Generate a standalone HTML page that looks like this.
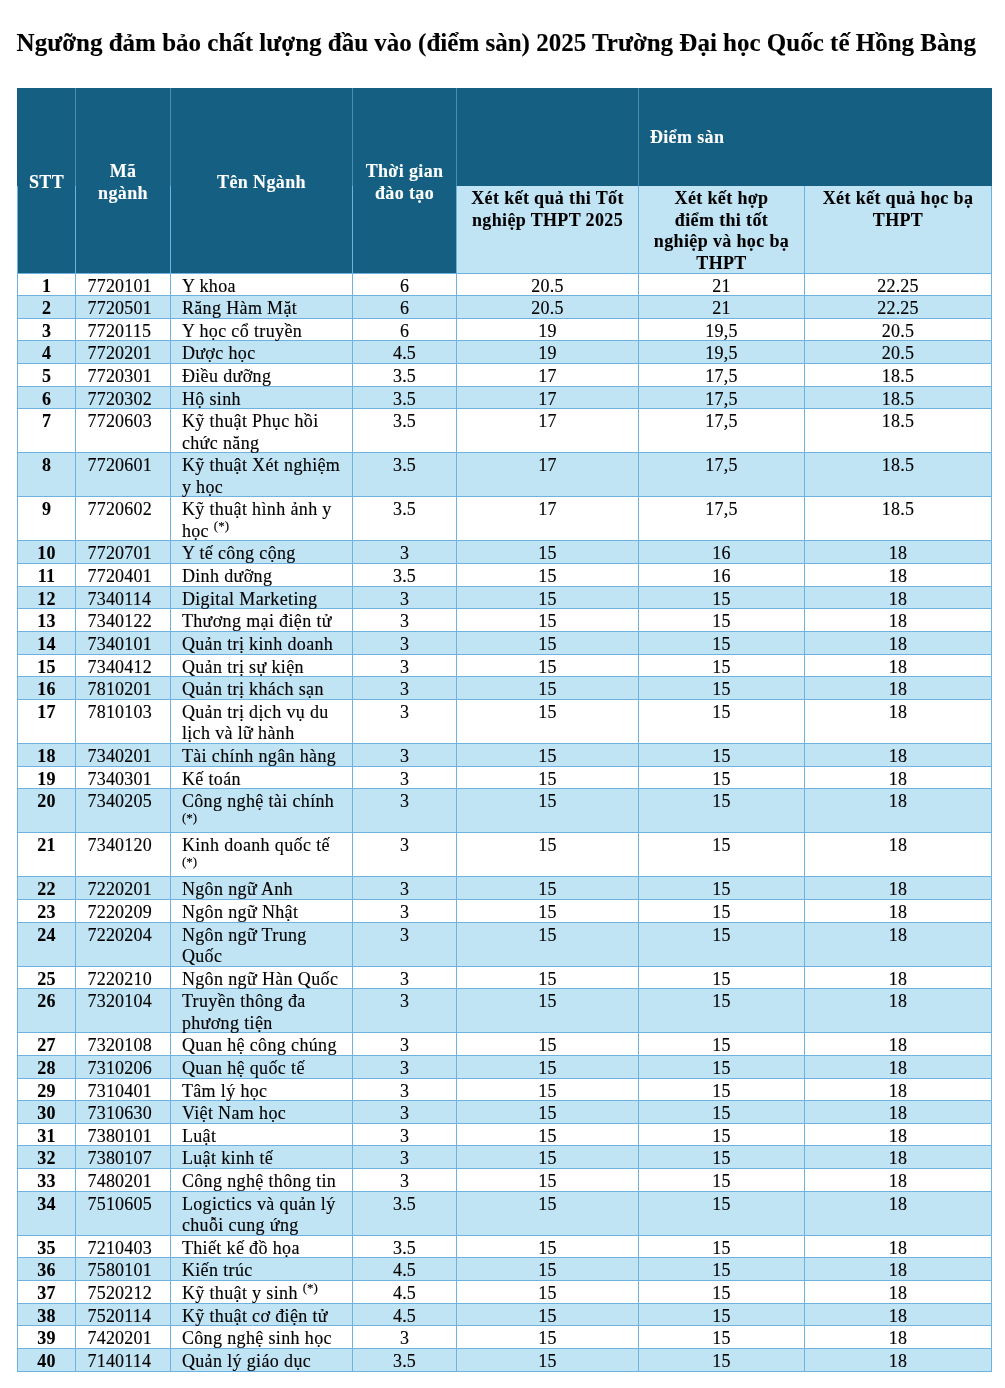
<!DOCTYPE html>
<html><head><meta charset="utf-8"><title>Ngưỡng điểm sàn 2025</title>
<style>
html,body{margin:0;padding:0;background:#fff;}
body{width:1005px;height:1388px;position:relative;overflow:hidden;font-family:"Liberation Serif",serif;color:#000;}
div{position:absolute;box-sizing:border-box;white-space:nowrap;}
.t{font-size:18.0px;line-height:21.47px;letter-spacing:0.36px;}
.n{letter-spacing:0.2px;}
.t{-webkit-text-stroke:0.14px currentColor;}
.t.b{-webkit-text-stroke:0.1px currentColor;}
.c{text-align:center;}
.b{font-weight:bold;}
.w{color:#fff;}
.v{background:#6eb3df;width:1px;}
.h{background:#6eb3df;height:1px;}
sup{font-size:13px;line-height:0;vertical-align:6.8px;letter-spacing:0;}
</style></head><body>
<div id="w" style="left:0;top:0;width:1005px;height:1388px;will-change:transform;">

<div class="b" style="-webkit-text-stroke:0.12px #000;left:16.6px;top:28.84px;font-size:25.0px;line-height:27px;">Ngưỡng đảm bảo chất lượng đầu vào (điểm sàn) 2025 Trường Đại học Quốc tế Hồng Bàng</div>
<div style="left:17.0px;top:88.0px;width:975.0px;height:185.0px;background:#156082;"></div>
<div style="left:456.5px;top:185.5px;width:535.5px;height:87.5px;background:#c1e4f5;"></div>
<div style="left:17.0px;top:295.65px;width:975.0px;height:22.65px;background:#c1e4f5;"></div>
<div style="left:17.0px;top:340.95px;width:975.0px;height:22.65px;background:#c1e4f5;"></div>
<div style="left:17.0px;top:386.25px;width:975.0px;height:22.65px;background:#c1e4f5;"></div>
<div style="left:17.0px;top:452.90px;width:975.0px;height:44.00px;background:#c1e4f5;"></div>
<div style="left:17.0px;top:540.90px;width:975.0px;height:22.65px;background:#c1e4f5;"></div>
<div style="left:17.0px;top:586.20px;width:975.0px;height:22.65px;background:#c1e4f5;"></div>
<div style="left:17.0px;top:631.50px;width:975.0px;height:22.65px;background:#c1e4f5;"></div>
<div style="left:17.0px;top:676.80px;width:975.0px;height:22.65px;background:#c1e4f5;"></div>
<div style="left:17.0px;top:743.45px;width:975.0px;height:22.65px;background:#c1e4f5;"></div>
<div style="left:17.0px;top:788.75px;width:975.0px;height:44.00px;background:#c1e4f5;"></div>
<div style="left:17.0px;top:876.75px;width:975.0px;height:22.65px;background:#c1e4f5;"></div>
<div style="left:17.0px;top:922.05px;width:975.0px;height:44.00px;background:#c1e4f5;"></div>
<div style="left:17.0px;top:988.70px;width:975.0px;height:44.00px;background:#c1e4f5;"></div>
<div style="left:17.0px;top:1055.35px;width:975.0px;height:22.65px;background:#c1e4f5;"></div>
<div style="left:17.0px;top:1100.65px;width:975.0px;height:22.65px;background:#c1e4f5;"></div>
<div style="left:17.0px;top:1145.95px;width:975.0px;height:22.65px;background:#c1e4f5;"></div>
<div style="left:17.0px;top:1191.25px;width:975.0px;height:44.00px;background:#c1e4f5;"></div>
<div style="left:17.0px;top:1257.90px;width:975.0px;height:22.65px;background:#c1e4f5;"></div>
<div style="left:17.0px;top:1303.20px;width:975.0px;height:22.65px;background:#c1e4f5;"></div>
<div style="left:17.0px;top:1348.50px;width:975.0px;height:22.65px;background:#c1e4f5;"></div>
<div class="h" style="left:17.0px;top:272.50px;width:975.0px;"></div>
<div class="h" style="left:17.0px;top:295.15px;width:975.0px;"></div>
<div class="h" style="left:17.0px;top:317.80px;width:975.0px;"></div>
<div class="h" style="left:17.0px;top:340.45px;width:975.0px;"></div>
<div class="h" style="left:17.0px;top:363.10px;width:975.0px;"></div>
<div class="h" style="left:17.0px;top:385.75px;width:975.0px;"></div>
<div class="h" style="left:17.0px;top:408.40px;width:975.0px;"></div>
<div class="h" style="left:17.0px;top:452.40px;width:975.0px;"></div>
<div class="h" style="left:17.0px;top:496.40px;width:975.0px;"></div>
<div class="h" style="left:17.0px;top:540.40px;width:975.0px;"></div>
<div class="h" style="left:17.0px;top:563.05px;width:975.0px;"></div>
<div class="h" style="left:17.0px;top:585.70px;width:975.0px;"></div>
<div class="h" style="left:17.0px;top:608.35px;width:975.0px;"></div>
<div class="h" style="left:17.0px;top:631.00px;width:975.0px;"></div>
<div class="h" style="left:17.0px;top:653.65px;width:975.0px;"></div>
<div class="h" style="left:17.0px;top:676.30px;width:975.0px;"></div>
<div class="h" style="left:17.0px;top:698.95px;width:975.0px;"></div>
<div class="h" style="left:17.0px;top:742.95px;width:975.0px;"></div>
<div class="h" style="left:17.0px;top:765.60px;width:975.0px;"></div>
<div class="h" style="left:17.0px;top:788.25px;width:975.0px;"></div>
<div class="h" style="left:17.0px;top:832.25px;width:975.0px;"></div>
<div class="h" style="left:17.0px;top:876.25px;width:975.0px;"></div>
<div class="h" style="left:17.0px;top:898.90px;width:975.0px;"></div>
<div class="h" style="left:17.0px;top:921.55px;width:975.0px;"></div>
<div class="h" style="left:17.0px;top:965.55px;width:975.0px;"></div>
<div class="h" style="left:17.0px;top:988.20px;width:975.0px;"></div>
<div class="h" style="left:17.0px;top:1032.20px;width:975.0px;"></div>
<div class="h" style="left:17.0px;top:1054.85px;width:975.0px;"></div>
<div class="h" style="left:17.0px;top:1077.50px;width:975.0px;"></div>
<div class="h" style="left:17.0px;top:1100.15px;width:975.0px;"></div>
<div class="h" style="left:17.0px;top:1122.80px;width:975.0px;"></div>
<div class="h" style="left:17.0px;top:1145.45px;width:975.0px;"></div>
<div class="h" style="left:17.0px;top:1168.10px;width:975.0px;"></div>
<div class="h" style="left:17.0px;top:1190.75px;width:975.0px;"></div>
<div class="h" style="left:17.0px;top:1234.75px;width:975.0px;"></div>
<div class="h" style="left:17.0px;top:1257.40px;width:975.0px;"></div>
<div class="h" style="left:17.0px;top:1280.05px;width:975.0px;"></div>
<div class="h" style="left:17.0px;top:1302.70px;width:975.0px;"></div>
<div class="h" style="left:17.0px;top:1325.35px;width:975.0px;"></div>
<div class="h" style="left:17.0px;top:1348.00px;width:975.0px;"></div>
<div class="h" style="left:17.0px;top:1370.65px;width:975.0px;"></div>
<div class="v" style="left:17.0px;top:185.5px;height:1186.15px;"></div>
<div class="v" style="left:75.0px;top:88.0px;height:97.5px;background:#4a8db4;"></div>
<div class="v" style="left:75.0px;top:185.5px;height:1186.15px;"></div>
<div class="v" style="left:170.0px;top:88.0px;height:97.5px;background:#4a8db4;"></div>
<div class="v" style="left:170.0px;top:185.5px;height:1186.15px;"></div>
<div class="v" style="left:352.0px;top:88.0px;height:97.5px;background:#4a8db4;"></div>
<div class="v" style="left:352.0px;top:185.5px;height:1186.15px;"></div>
<div class="v" style="left:456.0px;top:88.0px;height:97.5px;background:#4a8db4;"></div>
<div class="v" style="left:456.0px;top:185.5px;height:1186.15px;"></div>
<div class="v" style="left:638.0px;top:88.0px;height:97.5px;background:#4a8db4;"></div>
<div class="v" style="left:638.0px;top:185.5px;height:1186.15px;"></div>
<div class="v" style="left:804.0px;top:185.5px;height:1186.15px;"></div>
<div class="v" style="left:991.0px;top:185.5px;height:1186.15px;"></div>
<div class="t c b w" style="left:17.5px;top:171.96px;width:58.0px;">STT</div>
<div class="t c b w" style="left:75.5px;top:161.23px;width:95.0px;">Mã<br>ngành</div>
<div class="t c b w" style="left:170.5px;top:171.96px;width:182.0px;">Tên Ngành</div>
<div class="t c b w" style="left:352.5px;top:161.23px;width:104.0px;">Thời gian<br>đào tạo</div>
<div class="t b w" style="left:649.9px;top:127.46px;">Điểm sàn</div>
<div class="t c b" style="left:456.5px;top:188.10px;width:182.0px;">Xét kết quả thi Tốt<br>nghiệp THPT 2025</div>
<div class="t c b" style="left:638.5px;top:188.10px;width:166.0px;">Xét kết hợp<br>điểm thi tốt<br>nghiệp và học bạ<br>THPT</div>
<div class="t c b" style="left:804.5px;top:188.10px;width:187.0px;">Xét kết quả học bạ<br>THPT</div>
<div class="t c b n" style="left:17.5px;top:275.50px;width:58.0px;">1</div>
<div class="t n" style="left:87.5px;top:275.50px;">7720101</div>
<div class="t" style="left:181.9px;top:275.50px;">Y khoa</div>
<div class="t c n" style="left:352.5px;top:275.50px;width:104.0px;">6</div>
<div class="t c n" style="left:456.5px;top:275.50px;width:182.0px;">20.5</div>
<div class="t c n" style="left:638.5px;top:275.50px;width:166.0px;">21</div>
<div class="t c n" style="left:804.5px;top:275.50px;width:187.0px;">22.25</div>
<div class="t c b n" style="left:17.5px;top:298.15px;width:58.0px;">2</div>
<div class="t n" style="left:87.5px;top:298.15px;">7720501</div>
<div class="t" style="left:181.9px;top:298.15px;">Răng Hàm Mặt</div>
<div class="t c n" style="left:352.5px;top:298.15px;width:104.0px;">6</div>
<div class="t c n" style="left:456.5px;top:298.15px;width:182.0px;">20.5</div>
<div class="t c n" style="left:638.5px;top:298.15px;width:166.0px;">21</div>
<div class="t c n" style="left:804.5px;top:298.15px;width:187.0px;">22.25</div>
<div class="t c b n" style="left:17.5px;top:320.80px;width:58.0px;">3</div>
<div class="t n" style="left:87.5px;top:320.80px;">7720115</div>
<div class="t" style="left:181.9px;top:320.80px;">Y học cổ truyền</div>
<div class="t c n" style="left:352.5px;top:320.80px;width:104.0px;">6</div>
<div class="t c n" style="left:456.5px;top:320.80px;width:182.0px;">19</div>
<div class="t c n" style="left:638.5px;top:320.80px;width:166.0px;">19,5</div>
<div class="t c n" style="left:804.5px;top:320.80px;width:187.0px;">20.5</div>
<div class="t c b n" style="left:17.5px;top:343.45px;width:58.0px;">4</div>
<div class="t n" style="left:87.5px;top:343.45px;">7720201</div>
<div class="t" style="left:181.9px;top:343.45px;">Dược học</div>
<div class="t c n" style="left:352.5px;top:343.45px;width:104.0px;">4.5</div>
<div class="t c n" style="left:456.5px;top:343.45px;width:182.0px;">19</div>
<div class="t c n" style="left:638.5px;top:343.45px;width:166.0px;">19,5</div>
<div class="t c n" style="left:804.5px;top:343.45px;width:187.0px;">20.5</div>
<div class="t c b n" style="left:17.5px;top:366.10px;width:58.0px;">5</div>
<div class="t n" style="left:87.5px;top:366.10px;">7720301</div>
<div class="t" style="left:181.9px;top:366.10px;">Điều dưỡng</div>
<div class="t c n" style="left:352.5px;top:366.10px;width:104.0px;">3.5</div>
<div class="t c n" style="left:456.5px;top:366.10px;width:182.0px;">17</div>
<div class="t c n" style="left:638.5px;top:366.10px;width:166.0px;">17,5</div>
<div class="t c n" style="left:804.5px;top:366.10px;width:187.0px;">18.5</div>
<div class="t c b n" style="left:17.5px;top:388.75px;width:58.0px;">6</div>
<div class="t n" style="left:87.5px;top:388.75px;">7720302</div>
<div class="t" style="left:181.9px;top:388.75px;">Hộ sinh</div>
<div class="t c n" style="left:352.5px;top:388.75px;width:104.0px;">3.5</div>
<div class="t c n" style="left:456.5px;top:388.75px;width:182.0px;">17</div>
<div class="t c n" style="left:638.5px;top:388.75px;width:166.0px;">17,5</div>
<div class="t c n" style="left:804.5px;top:388.75px;width:187.0px;">18.5</div>
<div class="t c b n" style="left:17.5px;top:411.40px;width:58.0px;">7</div>
<div class="t n" style="left:87.5px;top:411.40px;">7720603</div>
<div class="t" style="left:181.9px;top:411.40px;">Kỹ thuật Phục hồi<br>chức năng</div>
<div class="t c n" style="left:352.5px;top:411.40px;width:104.0px;">3.5</div>
<div class="t c n" style="left:456.5px;top:411.40px;width:182.0px;">17</div>
<div class="t c n" style="left:638.5px;top:411.40px;width:166.0px;">17,5</div>
<div class="t c n" style="left:804.5px;top:411.40px;width:187.0px;">18.5</div>
<div class="t c b n" style="left:17.5px;top:455.40px;width:58.0px;">8</div>
<div class="t n" style="left:87.5px;top:455.40px;">7720601</div>
<div class="t" style="left:181.9px;top:455.40px;">Kỹ thuật Xét nghiệm<br>y học</div>
<div class="t c n" style="left:352.5px;top:455.40px;width:104.0px;">3.5</div>
<div class="t c n" style="left:456.5px;top:455.40px;width:182.0px;">17</div>
<div class="t c n" style="left:638.5px;top:455.40px;width:166.0px;">17,5</div>
<div class="t c n" style="left:804.5px;top:455.40px;width:187.0px;">18.5</div>
<div class="t c b n" style="left:17.5px;top:499.40px;width:58.0px;">9</div>
<div class="t n" style="left:87.5px;top:499.40px;">7720602</div>
<div class="t" style="left:181.9px;top:499.40px;">Kỹ thuật hình ảnh y<br>học <sup>(*)</sup></div>
<div class="t c n" style="left:352.5px;top:499.40px;width:104.0px;">3.5</div>
<div class="t c n" style="left:456.5px;top:499.40px;width:182.0px;">17</div>
<div class="t c n" style="left:638.5px;top:499.40px;width:166.0px;">17,5</div>
<div class="t c n" style="left:804.5px;top:499.40px;width:187.0px;">18.5</div>
<div class="t c b n" style="left:17.5px;top:543.40px;width:58.0px;">10</div>
<div class="t n" style="left:87.5px;top:543.40px;">7720701</div>
<div class="t" style="left:181.9px;top:543.40px;">Y tế công cộng</div>
<div class="t c n" style="left:352.5px;top:543.40px;width:104.0px;">3</div>
<div class="t c n" style="left:456.5px;top:543.40px;width:182.0px;">15</div>
<div class="t c n" style="left:638.5px;top:543.40px;width:166.0px;">16</div>
<div class="t c n" style="left:804.5px;top:543.40px;width:187.0px;">18</div>
<div class="t c b n" style="left:17.5px;top:566.05px;width:58.0px;">11</div>
<div class="t n" style="left:87.5px;top:566.05px;">7720401</div>
<div class="t" style="left:181.9px;top:566.05px;">Dinh dưỡng</div>
<div class="t c n" style="left:352.5px;top:566.05px;width:104.0px;">3.5</div>
<div class="t c n" style="left:456.5px;top:566.05px;width:182.0px;">15</div>
<div class="t c n" style="left:638.5px;top:566.05px;width:166.0px;">16</div>
<div class="t c n" style="left:804.5px;top:566.05px;width:187.0px;">18</div>
<div class="t c b n" style="left:17.5px;top:588.70px;width:58.0px;">12</div>
<div class="t n" style="left:87.5px;top:588.70px;">7340114</div>
<div class="t" style="left:181.9px;top:588.70px;">Digital Marketing</div>
<div class="t c n" style="left:352.5px;top:588.70px;width:104.0px;">3</div>
<div class="t c n" style="left:456.5px;top:588.70px;width:182.0px;">15</div>
<div class="t c n" style="left:638.5px;top:588.70px;width:166.0px;">15</div>
<div class="t c n" style="left:804.5px;top:588.70px;width:187.0px;">18</div>
<div class="t c b n" style="left:17.5px;top:611.35px;width:58.0px;">13</div>
<div class="t n" style="left:87.5px;top:611.35px;">7340122</div>
<div class="t" style="left:181.9px;top:611.35px;">Thương mại điện tử</div>
<div class="t c n" style="left:352.5px;top:611.35px;width:104.0px;">3</div>
<div class="t c n" style="left:456.5px;top:611.35px;width:182.0px;">15</div>
<div class="t c n" style="left:638.5px;top:611.35px;width:166.0px;">15</div>
<div class="t c n" style="left:804.5px;top:611.35px;width:187.0px;">18</div>
<div class="t c b n" style="left:17.5px;top:634.00px;width:58.0px;">14</div>
<div class="t n" style="left:87.5px;top:634.00px;">7340101</div>
<div class="t" style="left:181.9px;top:634.00px;">Quản trị kinh doanh</div>
<div class="t c n" style="left:352.5px;top:634.00px;width:104.0px;">3</div>
<div class="t c n" style="left:456.5px;top:634.00px;width:182.0px;">15</div>
<div class="t c n" style="left:638.5px;top:634.00px;width:166.0px;">15</div>
<div class="t c n" style="left:804.5px;top:634.00px;width:187.0px;">18</div>
<div class="t c b n" style="left:17.5px;top:656.65px;width:58.0px;">15</div>
<div class="t n" style="left:87.5px;top:656.65px;">7340412</div>
<div class="t" style="left:181.9px;top:656.65px;">Quản trị sự kiện</div>
<div class="t c n" style="left:352.5px;top:656.65px;width:104.0px;">3</div>
<div class="t c n" style="left:456.5px;top:656.65px;width:182.0px;">15</div>
<div class="t c n" style="left:638.5px;top:656.65px;width:166.0px;">15</div>
<div class="t c n" style="left:804.5px;top:656.65px;width:187.0px;">18</div>
<div class="t c b n" style="left:17.5px;top:679.30px;width:58.0px;">16</div>
<div class="t n" style="left:87.5px;top:679.30px;">7810201</div>
<div class="t" style="left:181.9px;top:679.30px;">Quản trị khách sạn</div>
<div class="t c n" style="left:352.5px;top:679.30px;width:104.0px;">3</div>
<div class="t c n" style="left:456.5px;top:679.30px;width:182.0px;">15</div>
<div class="t c n" style="left:638.5px;top:679.30px;width:166.0px;">15</div>
<div class="t c n" style="left:804.5px;top:679.30px;width:187.0px;">18</div>
<div class="t c b n" style="left:17.5px;top:701.95px;width:58.0px;">17</div>
<div class="t n" style="left:87.5px;top:701.95px;">7810103</div>
<div class="t" style="left:181.9px;top:701.95px;">Quản trị dịch vụ du<br>lịch và lữ hành</div>
<div class="t c n" style="left:352.5px;top:701.95px;width:104.0px;">3</div>
<div class="t c n" style="left:456.5px;top:701.95px;width:182.0px;">15</div>
<div class="t c n" style="left:638.5px;top:701.95px;width:166.0px;">15</div>
<div class="t c n" style="left:804.5px;top:701.95px;width:187.0px;">18</div>
<div class="t c b n" style="left:17.5px;top:745.95px;width:58.0px;">18</div>
<div class="t n" style="left:87.5px;top:745.95px;">7340201</div>
<div class="t" style="left:181.9px;top:745.95px;">Tài chính ngân hàng</div>
<div class="t c n" style="left:352.5px;top:745.95px;width:104.0px;">3</div>
<div class="t c n" style="left:456.5px;top:745.95px;width:182.0px;">15</div>
<div class="t c n" style="left:638.5px;top:745.95px;width:166.0px;">15</div>
<div class="t c n" style="left:804.5px;top:745.95px;width:187.0px;">18</div>
<div class="t c b n" style="left:17.5px;top:768.60px;width:58.0px;">19</div>
<div class="t n" style="left:87.5px;top:768.60px;">7340301</div>
<div class="t" style="left:181.9px;top:768.60px;">Kế toán</div>
<div class="t c n" style="left:352.5px;top:768.60px;width:104.0px;">3</div>
<div class="t c n" style="left:456.5px;top:768.60px;width:182.0px;">15</div>
<div class="t c n" style="left:638.5px;top:768.60px;width:166.0px;">15</div>
<div class="t c n" style="left:804.5px;top:768.60px;width:187.0px;">18</div>
<div class="t c b n" style="left:17.5px;top:791.25px;width:58.0px;">20</div>
<div class="t n" style="left:87.5px;top:791.25px;">7340205</div>
<div class="t" style="left:181.9px;top:791.25px;">Công nghệ tài chính<br><sup>(*)</sup></div>
<div class="t c n" style="left:352.5px;top:791.25px;width:104.0px;">3</div>
<div class="t c n" style="left:456.5px;top:791.25px;width:182.0px;">15</div>
<div class="t c n" style="left:638.5px;top:791.25px;width:166.0px;">15</div>
<div class="t c n" style="left:804.5px;top:791.25px;width:187.0px;">18</div>
<div class="t c b n" style="left:17.5px;top:835.25px;width:58.0px;">21</div>
<div class="t n" style="left:87.5px;top:835.25px;">7340120</div>
<div class="t" style="left:181.9px;top:835.25px;">Kinh doanh quốc tế<br><sup>(*)</sup></div>
<div class="t c n" style="left:352.5px;top:835.25px;width:104.0px;">3</div>
<div class="t c n" style="left:456.5px;top:835.25px;width:182.0px;">15</div>
<div class="t c n" style="left:638.5px;top:835.25px;width:166.0px;">15</div>
<div class="t c n" style="left:804.5px;top:835.25px;width:187.0px;">18</div>
<div class="t c b n" style="left:17.5px;top:879.25px;width:58.0px;">22</div>
<div class="t n" style="left:87.5px;top:879.25px;">7220201</div>
<div class="t" style="left:181.9px;top:879.25px;">Ngôn ngữ Anh</div>
<div class="t c n" style="left:352.5px;top:879.25px;width:104.0px;">3</div>
<div class="t c n" style="left:456.5px;top:879.25px;width:182.0px;">15</div>
<div class="t c n" style="left:638.5px;top:879.25px;width:166.0px;">15</div>
<div class="t c n" style="left:804.5px;top:879.25px;width:187.0px;">18</div>
<div class="t c b n" style="left:17.5px;top:901.90px;width:58.0px;">23</div>
<div class="t n" style="left:87.5px;top:901.90px;">7220209</div>
<div class="t" style="left:181.9px;top:901.90px;">Ngôn ngữ Nhật</div>
<div class="t c n" style="left:352.5px;top:901.90px;width:104.0px;">3</div>
<div class="t c n" style="left:456.5px;top:901.90px;width:182.0px;">15</div>
<div class="t c n" style="left:638.5px;top:901.90px;width:166.0px;">15</div>
<div class="t c n" style="left:804.5px;top:901.90px;width:187.0px;">18</div>
<div class="t c b n" style="left:17.5px;top:924.55px;width:58.0px;">24</div>
<div class="t n" style="left:87.5px;top:924.55px;">7220204</div>
<div class="t" style="left:181.9px;top:924.55px;">Ngôn ngữ Trung<br>Quốc</div>
<div class="t c n" style="left:352.5px;top:924.55px;width:104.0px;">3</div>
<div class="t c n" style="left:456.5px;top:924.55px;width:182.0px;">15</div>
<div class="t c n" style="left:638.5px;top:924.55px;width:166.0px;">15</div>
<div class="t c n" style="left:804.5px;top:924.55px;width:187.0px;">18</div>
<div class="t c b n" style="left:17.5px;top:968.55px;width:58.0px;">25</div>
<div class="t n" style="left:87.5px;top:968.55px;">7220210</div>
<div class="t" style="left:181.9px;top:968.55px;">Ngôn ngữ Hàn Quốc</div>
<div class="t c n" style="left:352.5px;top:968.55px;width:104.0px;">3</div>
<div class="t c n" style="left:456.5px;top:968.55px;width:182.0px;">15</div>
<div class="t c n" style="left:638.5px;top:968.55px;width:166.0px;">15</div>
<div class="t c n" style="left:804.5px;top:968.55px;width:187.0px;">18</div>
<div class="t c b n" style="left:17.5px;top:991.20px;width:58.0px;">26</div>
<div class="t n" style="left:87.5px;top:991.20px;">7320104</div>
<div class="t" style="left:181.9px;top:991.20px;">Truyền thông đa<br>phương tiện</div>
<div class="t c n" style="left:352.5px;top:991.20px;width:104.0px;">3</div>
<div class="t c n" style="left:456.5px;top:991.20px;width:182.0px;">15</div>
<div class="t c n" style="left:638.5px;top:991.20px;width:166.0px;">15</div>
<div class="t c n" style="left:804.5px;top:991.20px;width:187.0px;">18</div>
<div class="t c b n" style="left:17.5px;top:1035.20px;width:58.0px;">27</div>
<div class="t n" style="left:87.5px;top:1035.20px;">7320108</div>
<div class="t" style="left:181.9px;top:1035.20px;">Quan hệ công chúng</div>
<div class="t c n" style="left:352.5px;top:1035.20px;width:104.0px;">3</div>
<div class="t c n" style="left:456.5px;top:1035.20px;width:182.0px;">15</div>
<div class="t c n" style="left:638.5px;top:1035.20px;width:166.0px;">15</div>
<div class="t c n" style="left:804.5px;top:1035.20px;width:187.0px;">18</div>
<div class="t c b n" style="left:17.5px;top:1057.85px;width:58.0px;">28</div>
<div class="t n" style="left:87.5px;top:1057.85px;">7310206</div>
<div class="t" style="left:181.9px;top:1057.85px;">Quan hệ quốc tế</div>
<div class="t c n" style="left:352.5px;top:1057.85px;width:104.0px;">3</div>
<div class="t c n" style="left:456.5px;top:1057.85px;width:182.0px;">15</div>
<div class="t c n" style="left:638.5px;top:1057.85px;width:166.0px;">15</div>
<div class="t c n" style="left:804.5px;top:1057.85px;width:187.0px;">18</div>
<div class="t c b n" style="left:17.5px;top:1080.50px;width:58.0px;">29</div>
<div class="t n" style="left:87.5px;top:1080.50px;">7310401</div>
<div class="t" style="left:181.9px;top:1080.50px;">Tâm lý học</div>
<div class="t c n" style="left:352.5px;top:1080.50px;width:104.0px;">3</div>
<div class="t c n" style="left:456.5px;top:1080.50px;width:182.0px;">15</div>
<div class="t c n" style="left:638.5px;top:1080.50px;width:166.0px;">15</div>
<div class="t c n" style="left:804.5px;top:1080.50px;width:187.0px;">18</div>
<div class="t c b n" style="left:17.5px;top:1103.15px;width:58.0px;">30</div>
<div class="t n" style="left:87.5px;top:1103.15px;">7310630</div>
<div class="t" style="left:181.9px;top:1103.15px;">Việt Nam học</div>
<div class="t c n" style="left:352.5px;top:1103.15px;width:104.0px;">3</div>
<div class="t c n" style="left:456.5px;top:1103.15px;width:182.0px;">15</div>
<div class="t c n" style="left:638.5px;top:1103.15px;width:166.0px;">15</div>
<div class="t c n" style="left:804.5px;top:1103.15px;width:187.0px;">18</div>
<div class="t c b n" style="left:17.5px;top:1125.80px;width:58.0px;">31</div>
<div class="t n" style="left:87.5px;top:1125.80px;">7380101</div>
<div class="t" style="left:181.9px;top:1125.80px;">Luật</div>
<div class="t c n" style="left:352.5px;top:1125.80px;width:104.0px;">3</div>
<div class="t c n" style="left:456.5px;top:1125.80px;width:182.0px;">15</div>
<div class="t c n" style="left:638.5px;top:1125.80px;width:166.0px;">15</div>
<div class="t c n" style="left:804.5px;top:1125.80px;width:187.0px;">18</div>
<div class="t c b n" style="left:17.5px;top:1148.45px;width:58.0px;">32</div>
<div class="t n" style="left:87.5px;top:1148.45px;">7380107</div>
<div class="t" style="left:181.9px;top:1148.45px;">Luật kinh tế</div>
<div class="t c n" style="left:352.5px;top:1148.45px;width:104.0px;">3</div>
<div class="t c n" style="left:456.5px;top:1148.45px;width:182.0px;">15</div>
<div class="t c n" style="left:638.5px;top:1148.45px;width:166.0px;">15</div>
<div class="t c n" style="left:804.5px;top:1148.45px;width:187.0px;">18</div>
<div class="t c b n" style="left:17.5px;top:1171.10px;width:58.0px;">33</div>
<div class="t n" style="left:87.5px;top:1171.10px;">7480201</div>
<div class="t" style="left:181.9px;top:1171.10px;">Công nghệ thông tin</div>
<div class="t c n" style="left:352.5px;top:1171.10px;width:104.0px;">3</div>
<div class="t c n" style="left:456.5px;top:1171.10px;width:182.0px;">15</div>
<div class="t c n" style="left:638.5px;top:1171.10px;width:166.0px;">15</div>
<div class="t c n" style="left:804.5px;top:1171.10px;width:187.0px;">18</div>
<div class="t c b n" style="left:17.5px;top:1193.75px;width:58.0px;">34</div>
<div class="t n" style="left:87.5px;top:1193.75px;">7510605</div>
<div class="t" style="left:181.9px;top:1193.75px;">Logictics và quản lý<br>chuỗi cung ứng</div>
<div class="t c n" style="left:352.5px;top:1193.75px;width:104.0px;">3.5</div>
<div class="t c n" style="left:456.5px;top:1193.75px;width:182.0px;">15</div>
<div class="t c n" style="left:638.5px;top:1193.75px;width:166.0px;">15</div>
<div class="t c n" style="left:804.5px;top:1193.75px;width:187.0px;">18</div>
<div class="t c b n" style="left:17.5px;top:1237.75px;width:58.0px;">35</div>
<div class="t n" style="left:87.5px;top:1237.75px;">7210403</div>
<div class="t" style="left:181.9px;top:1237.75px;">Thiết kế đồ họa</div>
<div class="t c n" style="left:352.5px;top:1237.75px;width:104.0px;">3.5</div>
<div class="t c n" style="left:456.5px;top:1237.75px;width:182.0px;">15</div>
<div class="t c n" style="left:638.5px;top:1237.75px;width:166.0px;">15</div>
<div class="t c n" style="left:804.5px;top:1237.75px;width:187.0px;">18</div>
<div class="t c b n" style="left:17.5px;top:1260.40px;width:58.0px;">36</div>
<div class="t n" style="left:87.5px;top:1260.40px;">7580101</div>
<div class="t" style="left:181.9px;top:1260.40px;">Kiến trúc</div>
<div class="t c n" style="left:352.5px;top:1260.40px;width:104.0px;">4.5</div>
<div class="t c n" style="left:456.5px;top:1260.40px;width:182.0px;">15</div>
<div class="t c n" style="left:638.5px;top:1260.40px;width:166.0px;">15</div>
<div class="t c n" style="left:804.5px;top:1260.40px;width:187.0px;">18</div>
<div class="t c b n" style="left:17.5px;top:1283.05px;width:58.0px;">37</div>
<div class="t n" style="left:87.5px;top:1283.05px;">7520212</div>
<div class="t" style="left:181.9px;top:1283.05px;">Kỹ thuật y sinh <sup>(*)</sup></div>
<div class="t c n" style="left:352.5px;top:1283.05px;width:104.0px;">4.5</div>
<div class="t c n" style="left:456.5px;top:1283.05px;width:182.0px;">15</div>
<div class="t c n" style="left:638.5px;top:1283.05px;width:166.0px;">15</div>
<div class="t c n" style="left:804.5px;top:1283.05px;width:187.0px;">18</div>
<div class="t c b n" style="left:17.5px;top:1305.70px;width:58.0px;">38</div>
<div class="t n" style="left:87.5px;top:1305.70px;">7520114</div>
<div class="t" style="left:181.9px;top:1305.70px;">Kỹ thuật cơ điện tử</div>
<div class="t c n" style="left:352.5px;top:1305.70px;width:104.0px;">4.5</div>
<div class="t c n" style="left:456.5px;top:1305.70px;width:182.0px;">15</div>
<div class="t c n" style="left:638.5px;top:1305.70px;width:166.0px;">15</div>
<div class="t c n" style="left:804.5px;top:1305.70px;width:187.0px;">18</div>
<div class="t c b n" style="left:17.5px;top:1328.35px;width:58.0px;">39</div>
<div class="t n" style="left:87.5px;top:1328.35px;">7420201</div>
<div class="t" style="left:181.9px;top:1328.35px;">Công nghệ sinh học</div>
<div class="t c n" style="left:352.5px;top:1328.35px;width:104.0px;">3</div>
<div class="t c n" style="left:456.5px;top:1328.35px;width:182.0px;">15</div>
<div class="t c n" style="left:638.5px;top:1328.35px;width:166.0px;">15</div>
<div class="t c n" style="left:804.5px;top:1328.35px;width:187.0px;">18</div>
<div class="t c b n" style="left:17.5px;top:1351.00px;width:58.0px;">40</div>
<div class="t n" style="left:87.5px;top:1351.00px;">7140114</div>
<div class="t" style="left:181.9px;top:1351.00px;">Quản lý giáo dục</div>
<div class="t c n" style="left:352.5px;top:1351.00px;width:104.0px;">3.5</div>
<div class="t c n" style="left:456.5px;top:1351.00px;width:182.0px;">15</div>
<div class="t c n" style="left:638.5px;top:1351.00px;width:166.0px;">15</div>
<div class="t c n" style="left:804.5px;top:1351.00px;width:187.0px;">18</div>
</div>
</body></html>
